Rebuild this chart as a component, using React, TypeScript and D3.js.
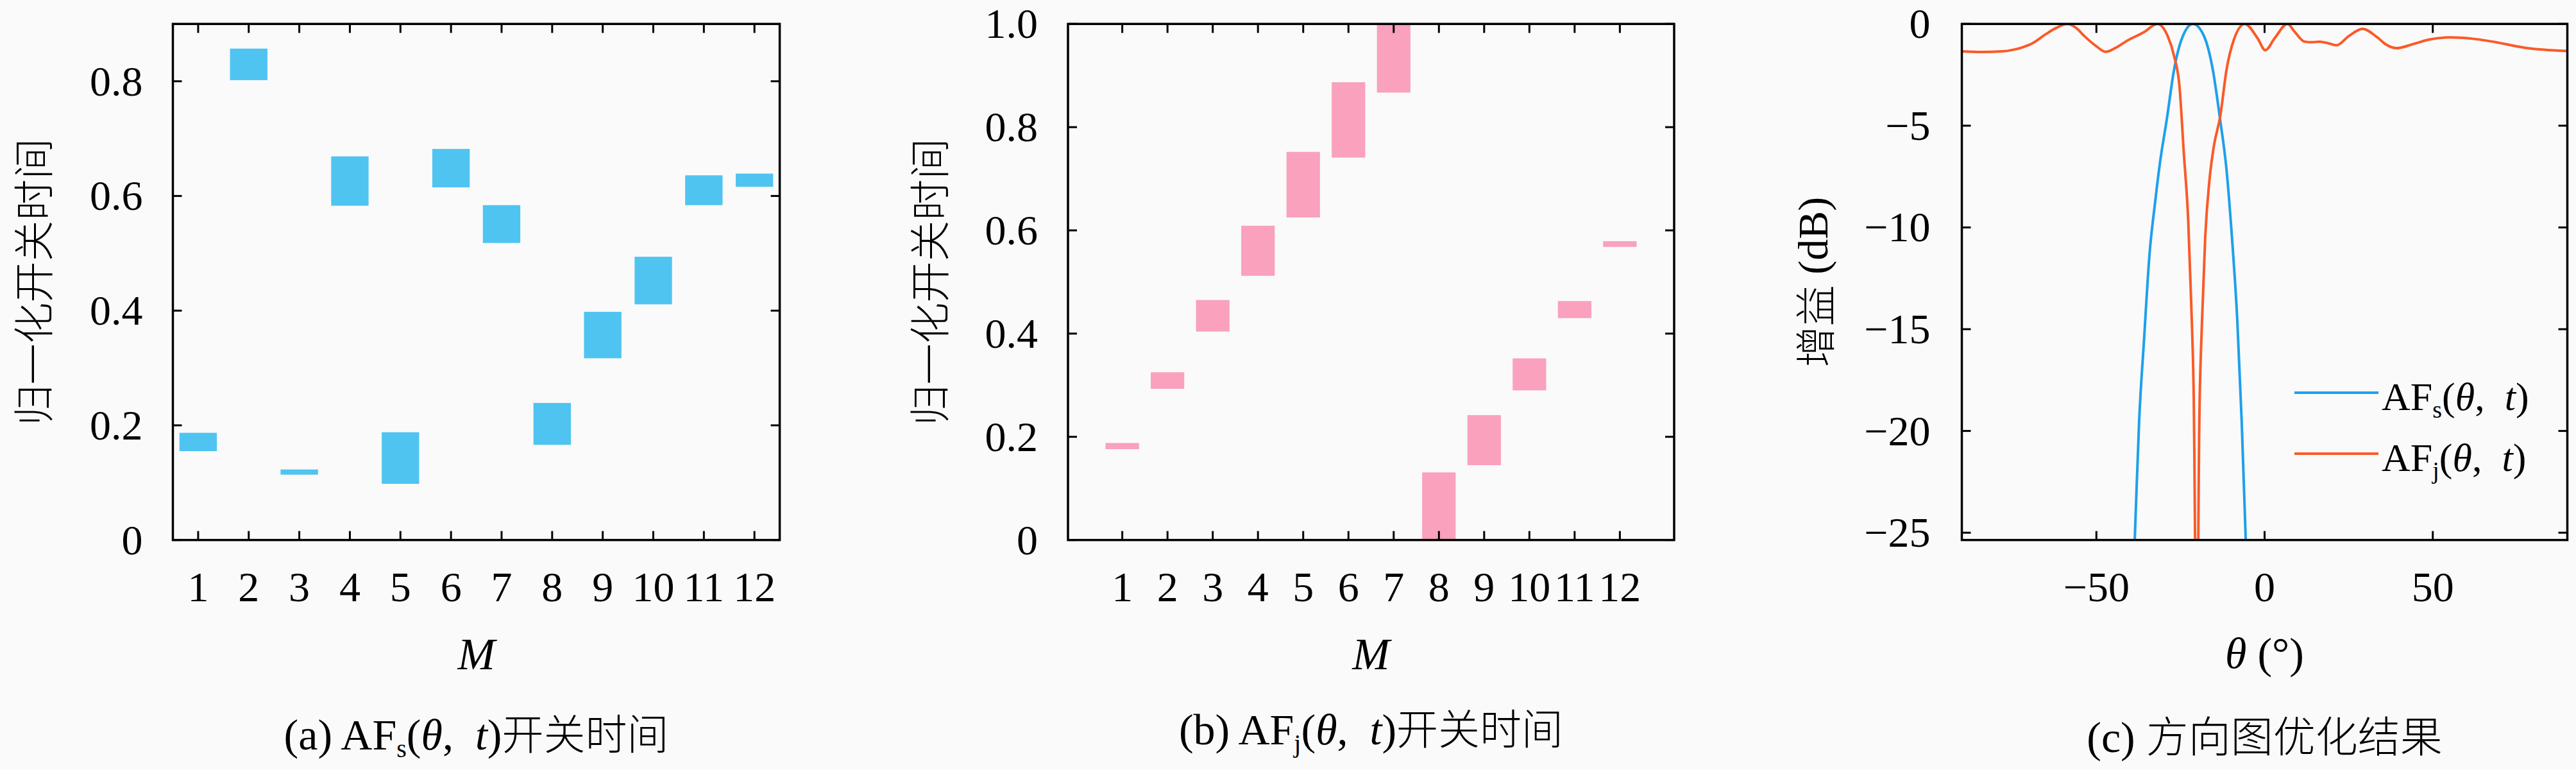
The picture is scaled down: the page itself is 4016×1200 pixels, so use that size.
import * as d3 from 'd3';

// ---- data ----
const elements = [1, 2, 3, 4, 5, 6, 7, 8, 9, 10, 11, 12];

// AF_s switch-on / switch-off times (normalised)
const afsOn = [0.155, 0.802, 0.114, 0.583, 0.098, 0.615, 0.518, 0.166, 0.317, 0.411, 0.584, 0.616];
const afsOff = [0.187, 0.857, 0.123, 0.669, 0.188, 0.682, 0.584, 0.239, 0.398, 0.494, 0.636, 0.639];

// AF_j switch-on / switch-off times (normalised)
const afjOn = [0.176, 0.293, 0.404, 0.512, 0.625, 0.741, 0.867, 0.0, 0.145, 0.29, 0.43, 0.568];
const afjOff = [0.188, 0.325, 0.465, 0.609, 0.752, 0.887, 1.0, 0.131, 0.242, 0.352, 0.463, 0.579];

const yTicksA = [0, 0.2, 0.4, 0.6, 0.8];
const yTickLabelsA = ['0', '0.2', '0.4', '0.6', '0.8'];
const yTicksB = [0, 0.2, 0.4, 0.6, 0.8, 1.0];
const yTickLabelsB = ['0', '0.2', '0.4', '0.6', '0.8', '1.0'];

// pattern (c): theta in degrees, gain in dB
const afsTheta = [-39.2, -38.6, -37.3, -35.8, -34.2, -32.6, -31.0, -29.1, -26.9, -24.3, -21.3, -18.0, -15.4, -13.2, -11.3, -9.7, -8.1, -6.8, -5.6, -5.1];
const afsGain = [-28, -25.36, -19.55, -15.43, -11.31, -8.84, -6.7, -4.72, -2.24, -0.6, 0, -0.6, -2.24, -4.72, -7.19, -10.49, -14.61, -19.55, -25.36, -28];

const afjTheta = [
  -90, -84, -78, -75, -72, -69, -65, -62, -58.6, -56, -53.5, -50, -47.2, -44, -40.8, -35.8, -31.9,
  -28.8, -26.9, -25.3, -24.0, -22.7, -21.8, -21.1, -20.15, -19.4, -18.6, -17.65, -16.4, -15.1,
  -13.2, -11.3, -9.1, -5.9, -2.1, 0.2, 3, 6.8, 9, 11.9, 14, 16.4, 19, 21.4, 25, 29.1, 33.5, 36,
  39.2, 44, 48.8, 55.1, 61.5, 67.8, 77.4, 90,
];
const afjGain = [
  -1.35, -1.38, -1.35, -1.28, -1.15, -0.95, -0.5, -0.2, 0, -0.2, -0.61, -1.1, -1.37, -1.15, -0.82, -0.4, 0,
  -0.6, -1.58, -3.07, -6.37, -9.66, -13.79, -17.91, -32, -19.55, -14.61, -10.49, -7.69, -6.03,
  -4.55, -2.24, -0.76, 0, -0.7, -1.29, -0.7, 0, -0.4, -0.87, -0.9, -0.87, -0.95, -1.05, -0.6, -0.24, -0.66, -1.0,
  -1.19, -1.0, -0.77, -0.66, -0.72, -0.87, -1.17, -1.33,
];

const xTicksC = [-50, 0, 50];
const yTicksC = [0, -5, -10, -15, -20, -25];

// ---- style ----
const SERIF = "'Liberation Serif', 'Noto Sans CJK SC', serif";
const CJK = "'Noto Sans CJK SC', sans-serif";
const BG = '#fafafa';
const BLUE_BAR = '#4fc4f1';
const PINK_BAR = '#f9a1bd';
const BLUE_LINE = '#1ea0ea';
const ORANGE_LINE = '#fb5a27';
const TOP = 37.3;
const BOTTOM = 841.6;
const TICK = 14;
const GAP = '\u2002';

interface FrameProps {
  x: d3.ScaleLinear<number, number>;
  y: d3.ScaleLinear<number, number>;
  xTicks: number[];
  yTicks: number[];
}

function Frame({ x, y, xTicks, yTicks }: FrameProps) {
  const [x0, x1] = x.range();
  const [y0, y1] = y.range();
  return (
    <g stroke="#000" fill="none">
      {xTicks.map((t) => (
        <g key={'x' + t} strokeWidth={3}>
          <line x1={x(t)} x2={x(t)} y1={y0} y2={y0 - TICK} />
          <line x1={x(t)} x2={x(t)} y1={y1} y2={y1 + TICK} />
        </g>
      ))}
      {yTicks.map((t) => (
        <g key={'y' + t} strokeWidth={3}>
          <line x1={x0} x2={x0 + TICK} y1={y(t)} y2={y(t)} />
          <line x1={x1} x2={x1 - TICK} y1={y(t)} y2={y(t)} />
        </g>
      ))}
      <rect x={x0} y={y1} width={x1 - x0} height={y0 - y1} strokeWidth={3.5} />
    </g>
  );
}

function YTickLabels({ x, y, ticks, labels }: { x: number; y: d3.ScaleLinear<number, number>; ticks: number[]; labels: string[] }) {
  return (
    <g fontFamily={SERIF} fontSize={66} textAnchor="end">
      {ticks.map((t, i) => (
        <text key={t} x={x} y={y(t) + 22}>
          {labels[i]}
        </text>
      ))}
    </g>
  );
}

function XTickLabels({ x, ticks, labels }: { x: d3.ScaleLinear<number, number>; ticks: number[]; labels: string[] }) {
  return (
    <g fontFamily={SERIF} fontSize={66} textAnchor="middle">
      {ticks.map((t, i) => (
        <text key={t} x={x(t)} y={937}>
          {labels[i]}
        </text>
      ))}
    </g>
  );
}

function BarPanel({
  left, right, xDomain, yDomain, on, off, color, yTicks, yLabels, labelX, sub, caption, captionY,
}: {
  left: number; right: number; xDomain: [number, number]; yDomain: [number, number];
  on: number[]; off: number[]; color: string; yTicks: number[]; yLabels: string[];
  labelX: number; sub: string; caption: string; captionY: number;
}) {
  const x = d3.scaleLinear().domain(xDomain).range([left, right]);
  const y = d3.scaleLinear().domain(yDomain).range([BOTTOM, TOP]);
  const half = 0.37;
  const cx = (left + right) / 2;
  return (
    <g>
      {elements.map((m, i) => (
        <rect
          key={m}
          x={x(m - half)}
          width={x(m + half) - x(m - half)}
          y={y(off[i])}
          height={y(on[i]) - y(off[i])}
          fill={color}
        />
      ))}
      <Frame x={x} y={y} xTicks={elements} yTicks={yTicks} />
      <YTickLabels x={left - 47} y={y} ticks={yTicks} labels={yLabels} />
      <XTickLabels x={x} ticks={elements} labels={elements.map(String)} />
      <text
        transform={`translate(${labelX},${(TOP + BOTTOM) / 2}) rotate(-90)`}
        textAnchor="middle"
        dominantBaseline="central"
        fontFamily={CJK}
        fontWeight={300}
        fontSize={64}
      >
        归一化开关时间
      </text>
      <text x={cx} y={1043} textAnchor="middle" fontFamily={SERIF} fontStyle="italic" fontSize={70}>
        M
      </text>
      <text x={cx} y={captionY} textAnchor="middle" fontFamily={SERIF} fontSize={68}>
        <tspan>{caption} AF</tspan>
        <tspan fontSize={40} dy={12}>{sub}</tspan>
        <tspan dy={-12}>(</tspan>
        <tspan fontStyle="italic">θ</tspan>
        <tspan>,{GAP}</tspan>
        <tspan fontStyle="italic">t</tspan>
        <tspan>)</tspan>
        <tspan fontFamily={CJK} fontWeight={300} fontSize={65}>开关时间</tspan>
      </text>
    </g>
  );
}

function PatternPanel() {
  const left = 3058.5;
  const right = 4002.5;
  const x = d3.scaleLinear().domain([-90, 90]).range([left, right]);
  const y = d3.scaleLinear().domain([-25.36, 0]).range([BOTTOM, TOP]);
  const line = d3
    .line<[number, number]>()
    .x((d) => x(d[0]))
    .y((d) => y(d[1]))
    .curve(d3.curveMonotoneX);
  const afs = afsTheta.map((t, i) => [t, afsGain[i]] as [number, number]);
  const afj = afjTheta.map((t, i) => [t, afjGain[i]] as [number, number]);
  const fmt = d3.format('d');
  const legendX = 3577;
  const legendRows = [
    { sub: 's', color: BLUE_LINE, y: 612 },
    { sub: 'j', color: ORANGE_LINE, y: 707 },
  ];
  return (
    <g>
      <defs>
        <clipPath id="clip-c">
          <rect x={left} y={TOP} width={right - left} height={BOTTOM - TOP} />
        </clipPath>
      </defs>
      <g clipPath="url(#clip-c)" fill="none" strokeWidth={4} strokeLinejoin="round">
        <path d={line(afs) || ''} stroke={BLUE_LINE} />
        <path d={line(afj) || ''} stroke={ORANGE_LINE} />
      </g>
      <Frame x={x} y={y} xTicks={xTicksC} yTicks={yTicksC} />
      <YTickLabels x={left - 49} y={y} ticks={yTicksC} labels={yTicksC.map((d) => fmt(d))} />
      <XTickLabels x={x} ticks={xTicksC} labels={xTicksC.map((d) => fmt(d))} />
      {legendRows.map((r) => (
        <g key={r.sub}>
          <line x1={legendX} x2={legendX + 131} y1={r.y} y2={r.y} stroke={r.color} strokeWidth={4} />
          <text x={legendX + 136} y={r.y + 27} fontFamily={SERIF} fontSize={62}>
            <tspan>AF</tspan>
            <tspan fontSize={38} dy={12}>{r.sub}</tspan>
            <tspan dy={-12}>(</tspan>
            <tspan fontStyle="italic">θ</tspan>
            <tspan>,{GAP}</tspan>
            <tspan fontStyle="italic">t</tspan>
            <tspan>)</tspan>
          </text>
        </g>
      ))}
      <text
        transform={`translate(2826,${(TOP + BOTTOM) / 2}) rotate(-90)`}
        textAnchor="middle"
        dominantBaseline="central"
        fontFamily={SERIF}
        fontSize={66}
      >
        <tspan fontFamily={CJK} fontWeight={300} fontSize={64}>增益</tspan>
        <tspan> (dB)</tspan>
      </text>
      <text x={(left + right) / 2} y={1041} textAnchor="middle" fontFamily={SERIF} fontSize={68}>
        <tspan fontStyle="italic">θ</tspan>
        <tspan> (°)</tspan>
      </text>
      <text x={(left + right) / 2} y={1172} textAnchor="middle" fontFamily={SERIF} fontSize={68}>
        <tspan>(c) </tspan>
        <tspan fontFamily={CJK} fontWeight={300} fontSize={66}>方向图优化结果</tspan>
      </text>
    </g>
  );
}

export default function App() {
  return (
    <svg
      width={4016}
      height={1200}
      viewBox="0 0 4016 1200"
      style={{ position: 'absolute', left: 0, top: 0, background: BG }}
    >
      <rect width={4016} height={1200} fill={BG} />
      <BarPanel
        left={269.5}
        right={1215.6}
        xDomain={[0.5, 12.5]}
        yDomain={[0, 0.9]}
        on={afsOn}
        off={afsOff}
        color={BLUE_BAR}
        yTicks={yTicksA}
        yLabels={yTickLabelsA}
        labelX={48}
        sub="s"
        caption="(a)"
        captionY={1168}
      />
      <BarPanel
        left={1665}
        right={2610}
        xDomain={[-0.2, 13.2]}
        yDomain={[0, 1]}
        on={afjOn}
        off={afjOff}
        color={PINK_BAR}
        yTicks={yTicksB}
        yLabels={yTickLabelsB}
        labelX={1445}
        sub="j"
        caption="(b)"
        captionY={1160}
      />
      <PatternPanel />
    </svg>
  );
}
